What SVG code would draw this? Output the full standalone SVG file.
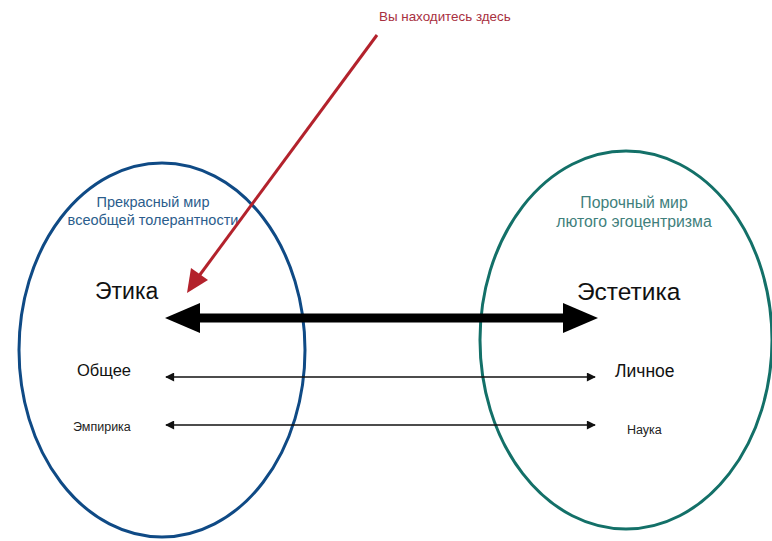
<svg xmlns="http://www.w3.org/2000/svg" width="772" height="541" viewBox="0 0 772 541">
<style>
text{font-family:"Liberation Sans",Arial,sans-serif;}
.big{font-size:23px;fill:#111;}
.mid{font-size:16.5px;fill:#111;}
.sm{font-size:12.5px;fill:#222;}
.cap1{font-size:14.5px;fill:#2b5d8c;text-anchor:middle;}
.cap2{font-size:15.8px;fill:#3f7f7c;text-anchor:middle;}
.thin{stroke:#111;stroke-width:1.5;fill:none;}
</style>
<defs>
<marker id="ah" viewBox="0 0 10 10" refX="9" refY="5" markerWidth="14" markerHeight="9" markerUnits="userSpaceOnUse" orient="auto-start-reverse">
<path d="M0,0 L10,5 L0,10 Z" fill="#111"/>
</marker>
</defs>
<rect width="772" height="541" fill="#fff"/>
<g id="left-world">
<ellipse cx="162" cy="350" rx="143" ry="187" fill="none" stroke="#0f4a85" stroke-width="3"/>
<text class="cap1" x="153" y="207">Прекрасный мир</text>
<text class="cap1" x="153" y="225">всеобщей толерантности</text>
</g>
<g id="right-world">
<ellipse cx="626" cy="340" rx="146" ry="189" fill="none" stroke="#137068" stroke-width="3"/>
<text class="cap2" x="634" y="208">Порочный мир</text>
<text class="cap2" x="634" y="227">лютого эгоцентризма</text>
</g>
<g id="etika"><text class="big" x="95" y="299">Этика</text></g>
<g id="estetika"><text class="big" x="577" y="300" style="font-size:24.5px">Эстетика</text></g>
<g id="obshchee"><text class="mid" x="77" y="376">Общее</text></g>
<g id="lichnoe"><text class="mid" x="615" y="377" style="font-size:17.5px">Личное</text></g>
<g id="empirika"><text class="sm" x="73" y="431">Эмпирика</text></g>
<g id="nauka"><text class="sm" x="627" y="434">Наука</text></g>
<g id="you-are-here"><text x="379" y="21" font-size="13.4" fill="#a8303f">Вы находитесь здесь</text></g>
<g id="connectors">
<line x1="198" y1="318" x2="565" y2="318" stroke="#000" stroke-width="9"/>
<path d="M165,318 L200,303 L200,333 Z" fill="#000"/>
<path d="M598,318 L563,303 L563,333 Z" fill="#000"/>
<line class="thin" x1="166" y1="377" x2="595" y2="377" marker-start="url(#ah)" marker-end="url(#ah)"/>
<line class="thin" x1="166" y1="425" x2="595" y2="425" marker-start="url(#ah)" marker-end="url(#ah)"/>
<line x1="377" y1="35" x2="199" y2="276" stroke="#b3222c" stroke-width="3"/>
<path d="M187,293 L191,268 L208,280 Z" fill="#b3222c"/>
</g>
</svg>
